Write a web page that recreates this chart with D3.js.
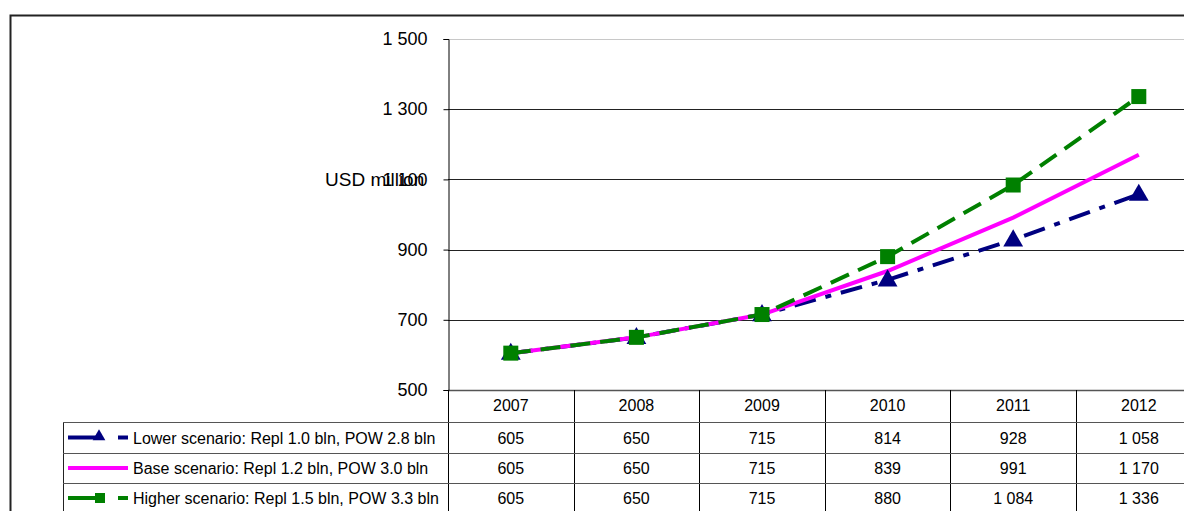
<!DOCTYPE html>
<html><head><meta charset="utf-8">
<script src="https://cdn.jsdelivr.net/npm/d3@7"></script>
<style>body{margin:0;background:#fff}svg{display:block;font-family:"Liberation Sans",Arial,sans-serif}</style>
</head><body><svg id="c" width="1184" height="511"></svg>
<script>
const years = ["2007","2008","2009","2010","2011","2012"];
const lower = [605,650,715,814,928,1058];
const base = [605,650,715,839,991,1170];
const higher = [605,650,715,880,1084,1336];
const seriesNames = ["Lower scenario: Repl 1.0 bln, POW 2.8 bln","Base scenario: Repl 1.2 bln, POW 3.0 bln","Higher scenario: Repl 1.5 bln, POW 3.3 bln"];
const yTicks = [500,700,900,1100,1300,1500];
const yLabel = "USD million";

(function(){
const svg = d3.select("#c");
const pLeft = 448, pTop = 39, pBottom = 390, colW = 125.6;
const x = d3.scaleBand().domain(years).range([pLeft, pLeft + colW*years.length]);
const y = d3.scaleLinear().domain([500,1500]).range([pBottom, pTop]);
const fmt = v => { const s = String(v); return s.length>3 ? s.slice(0,s.length-3)+" "+s.slice(-3) : s; };

// outer border
svg.append("path").attr("d","M10.5,511 V15.5 H1184").attr("fill","none").attr("stroke","#222").attr("stroke-width",2);

// gridlines
svg.append("g").selectAll("line").data(yTicks).join("line")
  .attr("x1",pLeft).attr("x2",1184).attr("y1",d=>Math.round(y(d))+0.5).attr("y2",d=>Math.round(y(d))+0.5)
  .attr("stroke",d=>d===1500?"#c8c8c8":(d===500?"#555":"#222")).attr("stroke-width",d=>d===500?1.5:1);

// y axis
const ya = svg.append("g").attr("transform",`translate(${pLeft+0.5},0)`)
  .call(d3.axisLeft(y).tickValues(yTicks).tickSize(5).tickPadding(16).tickFormat(fmt));
ya.attr("font-family",null).attr("font-size",null);
ya.select(".domain").attr("stroke","#000");
ya.selectAll("text").attr("font-size",18).attr("fill","#000");
ya.selectAll(".tick line").attr("stroke","#000");
svg.append("text").attr("x",325).attr("y",y(1100)+7).attr("font-size",19).text(yLabel);

// series
const series = [
  {vals:lower,color:"#000080",dash:"22,10,6,10",marker:"tri"},
  {vals:base,color:"#ff00ff",dash:null,marker:null},
  {vals:higher,color:"#008000",dash:"20,10",marker:"sq"}
];
const line = d3.line().x((d,i)=>x(years[i])+x.bandwidth()/2).y(d=>y(d));
series.forEach(s=>{
  svg.append("path").datum(s.vals).attr("d",line).attr("fill","none")
    .attr("stroke",s.color).attr("stroke-width",4).attr("stroke-dasharray",s.dash);
});
series.forEach(s=>{
  if(!s.marker) return;
  const g = svg.append("g");
  s.vals.forEach((v,i)=>{
    const cx = x(years[i])+x.bandwidth()/2, cy = y(v);
    if(s.marker==="sq") g.append("rect").attr("x",cx-7.5).attr("y",cy-7.5).attr("width",15).attr("height",15).attr("fill",s.color);
    else g.append("path").attr("d",d3.symbol(d3.symbolTriangle,170)()).attr("transform",`translate(${cx},${cy+1})`).attr("fill",s.color);
  });
});

// data table
const tbl = svg.append("g").attr("font-size",16);
const rowY = [390,422,453,483,513];
const tLeft = 63;
years.forEach((yr,i)=>{
  const xv = Math.round(x(yr))+0.5;
  tbl.append("line").attr("x1",xv).attr("x2",xv).attr("y1",390).attr("y2",511).attr("stroke","#000");
  tbl.append("text").attr("x",x(yr)+x.bandwidth()/2).attr("y",rowY[0]+21).attr("text-anchor","middle").text(yr);
});
tbl.append("line").attr("x1",tLeft+0.5).attr("x2",tLeft+0.5).attr("y1",rowY[1]).attr("y2",511).attr("stroke","#222");
[1,2,3].forEach(r=>{
  tbl.append("line").attr("x1",tLeft).attr("x2",1184).attr("y1",rowY[r]+0.5).attr("y2",rowY[r]+0.5).attr("stroke","#555");
});
series.forEach((s,r)=>{
  const cy = (rowY[r+1]+rowY[r+2])/2;
  const lg = tbl.append("g");
  lg.append("line").attr("x1",68).attr("x2",128).attr("y1",cy).attr("y2",cy)
    .attr("stroke",s.color).attr("stroke-width",4).attr("stroke-dasharray",s.dash?"34,16,10,20":null);
  if(s.marker==="sq") lg.append("rect").attr("x",95).attr("y",cy-5).attr("width",10).attr("height",10).attr("fill",s.color);
  if(s.marker==="tri") lg.append("path").attr("d",d3.symbol(d3.symbolTriangle,70)()).attr("transform",`translate(99,${cy-1})`).attr("fill",s.color);
  tbl.append("text").attr("x",133).attr("y",cy+6).text(seriesNames[r]);
  s.vals.forEach((v,i)=>{
    tbl.append("text").attr("x",x(years[i])+x.bandwidth()/2).attr("y",cy+6).attr("text-anchor","middle").text(fmt(v));
  });
});
})();
</script></body></html>
